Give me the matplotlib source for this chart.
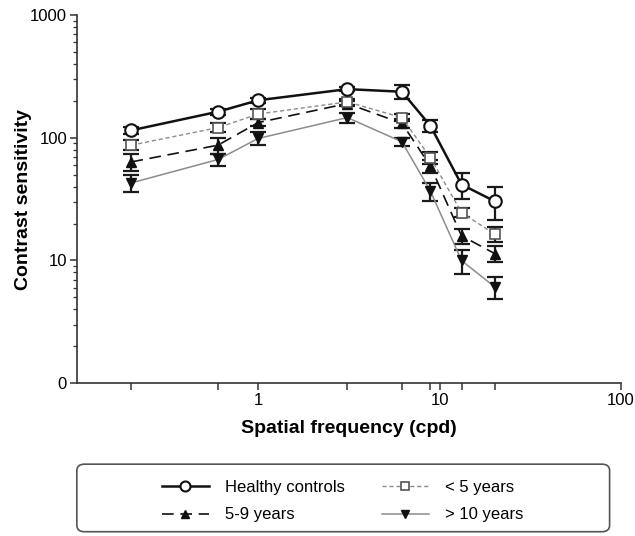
import numpy as np
import matplotlib.pyplot as plt
from matplotlib.ticker import FixedLocator, NullFormatter, LogLocator
from matplotlib.patches import FancyBboxPatch

plt.rcParams['font.family'] = ['Liberation Sans', 'DejaVu Sans']

# spatial frequencies (cpd)
freq = [0.2, 0.6, 1.0, 3.1, 6.2, 8.9, 13.2, 20.1]

# contrast sensitivity per group
healthy = [115, 163, 202, 249, 237, 125, 41.6, 30.4]
healthy_err = [8, 10, 10, 10, 30, 14, 10, 9]
under5 = [87, 121, 156, 196, 146, 68.6, 24.6, 16.4]
under5_err = [8, 10, 15, 10, 10, 8, 2, 2.3]
age5_9 = [63.6, 87, 133, 190, 131, 58.7, 15.9, 11.4]
age5_9_err = [10.5, 13, 8, 10, 10, 7, 2.3, 1.7]
over10 = [42.9, 66.5, 98.7, 146, 92.6, 36.7, 10.0, 6.1]
over10_err = [7, 7.5, 12, 14, 7.5, 6, 2.2, 1.25]

fig = plt.figure(figsize=(6.35, 5.36), dpi=100)
ax = fig.add_axes([0.121, 0.285, 0.857, 0.687])

eb = dict(fmt='none', ecolor='#1a1a1a', elinewidth=1.6, capsize=5.5, capthick=1.6)
for vals, errs in [(over10, over10_err), (age5_9, age5_9_err),
                   (under5, under5_err), (healthy, healthy_err)]:
    ax.errorbar(freq, vals, yerr=errs, zorder=2, **eb)

l_over10, = ax.plot(freq, over10, color='#8c8c8c', lw=1.1, ls='-',
                    marker='v', ms=7, mfc='#111111', mec='#111111', zorder=3)
l_59, = ax.plot(freq, age5_9, color='#111111', lw=1.2, ls=(0, (7, 4)),
                marker='^', ms=7, mfc='#111111', mec='#111111', zorder=4)
l_under5, = ax.plot(freq, under5, color='#8c8c8c', lw=1.0, ls=(0, (3, 2)),
                    marker='s', ms=7.5, mfc='white', mec='#555555', mew=1.2, zorder=5)
l_healthy, = ax.plot(freq, healthy, color='#111111', lw=1.8, ls='-',
                     marker='o', ms=9, mfc='white', mec='#111111', mew=1.5, zorder=6)

ax.set_xscale('log')
ax.set_yscale('log')
ax.set_xlim(0.1, 100)
ax.set_ylim(1, 1000)

ax.xaxis.set_major_locator(FixedLocator([1, 10, 100]))
ax.set_xticklabels(['1', '10', '100'])
ax.xaxis.set_minor_locator(FixedLocator(freq))
ax.xaxis.set_minor_formatter(NullFormatter())
ax.yaxis.set_major_locator(FixedLocator([1, 10, 100, 1000]))
ax.set_yticklabels(['0', '10', '100', '1000'])
ax.yaxis.set_minor_locator(LogLocator(base=10, subs=np.arange(2, 10)))
ax.yaxis.set_minor_formatter(NullFormatter())

for s in ['top', 'right']:
    ax.spines[s].set_visible(False)
for s in ['left', 'bottom']:
    ax.spines[s].set_color('#333333')
    ax.spines[s].set_linewidth(1.2)
ax.tick_params(which='major', length=5, width=1.1, color='#333333', labelsize=12, pad=2)
ax.tick_params(axis='x', which='minor', length=5, width=1.1, color='#333333')
ax.tick_params(axis='y', which='minor', length=3, width=0.9, color='#333333')

ax.set_xlabel('Spatial frequency (cpd)', fontsize=14, fontweight='bold', labelpad=9)
ax.set_ylabel('Contrast sensitivity', fontsize=14, fontweight='bold')
ax.yaxis.set_label_coords(-0.082, 0.5)

# legend box
frame = FancyBboxPatch((0.121, 0.008), 0.839, 0.126, transform=fig.transFigure,
                       boxstyle='round,pad=0,rounding_size=0.012',
                       fc='white', ec='#555555', lw=1.2)
fig.patches.append(frame)

fig.legend([l_healthy, l_59, l_under5, l_over10],
           ['Healthy controls', '5-9 years', '< 5 years', '> 10 years'],
           loc='center', bbox_to_anchor=(0.54, 0.065), ncol=2, frameon=False,
           fontsize=12, handlelength=2.8, handletextpad=1.0, columnspacing=2.2,
           labelspacing=0.75, markerscale=0.8)

fig.savefig('out.png', dpi=100)
